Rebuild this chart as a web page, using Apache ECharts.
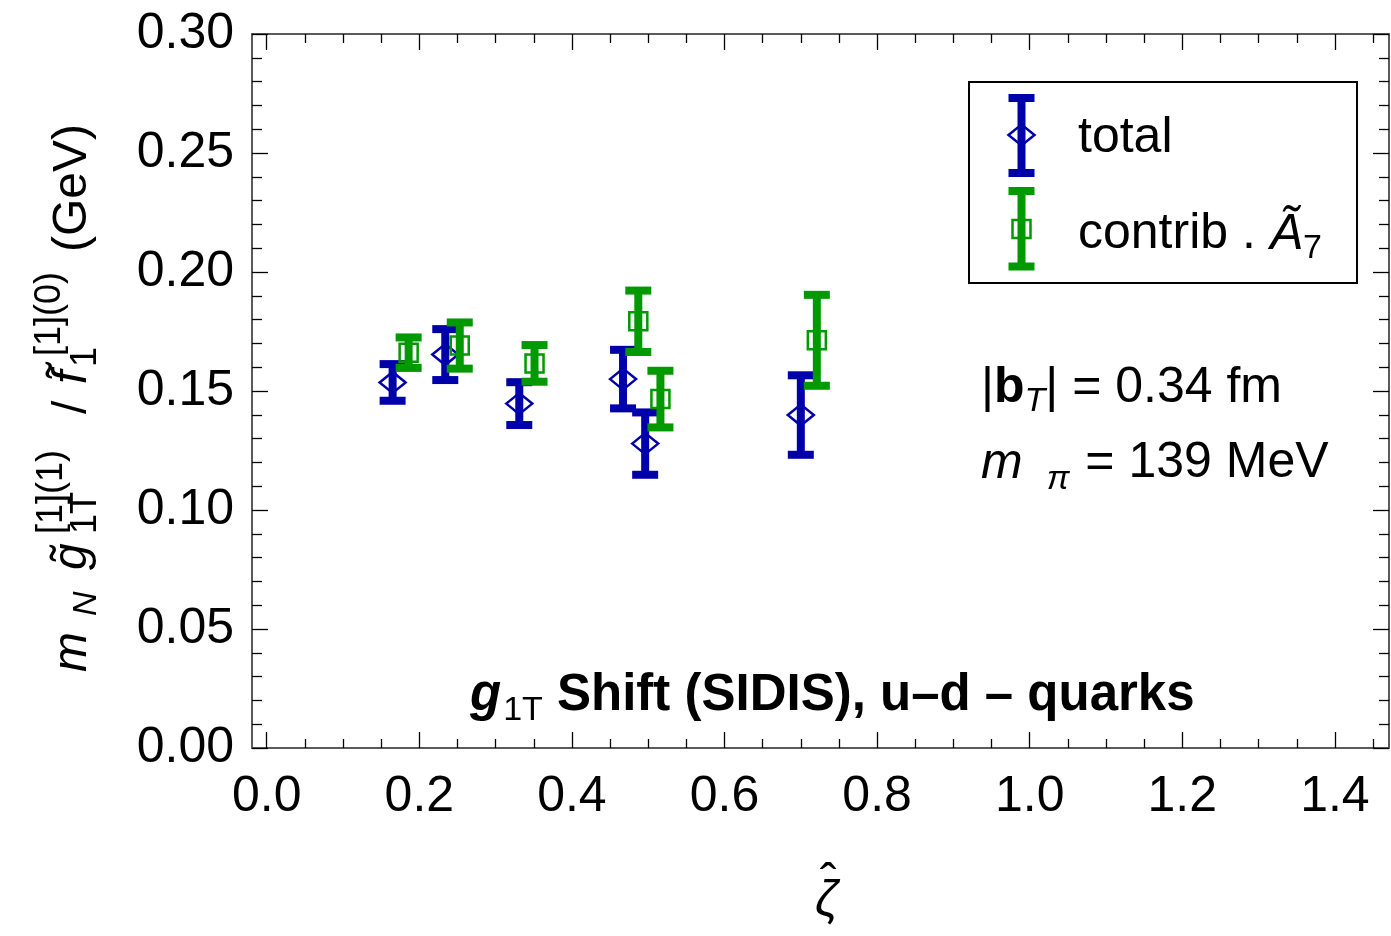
<!DOCTYPE html>
<html>
<head>
<meta charset="utf-8">
<script src="https://cdn.jsdelivr.net/npm/echarts@6/dist/echarts.min.js"></script>
<style>
  html, body { margin: 0; padding: 0; background: #ffffff; }
  #chart { width: 1391px; height: 936px; }
</style>
</head>
<body>
<div id="chart"></div>
<script>
// zeta-hat positions, central values and uncertainties (GeV)
const zetaTotal = [0.165, 0.234, 0.331, 0.467, 0.496, 0.700];
const valTotal  = [0.1536, 0.1653, 0.1447, 0.1550, 0.1279, 0.1399];
const errTotal  = [0.0077, 0.0107, 0.0090, 0.0123, 0.0131, 0.0167];

const zetaA7 = [0.186, 0.253, 0.351, 0.487, 0.516, 0.721];
const valA7  = [0.1661, 0.1691, 0.1616, 0.1793, 0.1466, 0.1713];
const errA7  = [0.0064, 0.0097, 0.0077, 0.0129, 0.0119, 0.0191];

// axis ticks
const xMajorTicks = [0.0, 0.2, 0.4, 0.6, 0.8, 1.0, 1.2, 1.4];
const xMinorTicks = [0.05, 0.1, 0.15, 0.25, 0.3, 0.35, 0.45, 0.5, 0.55, 0.65, 0.7, 0.75,
                     0.85, 0.9, 0.95, 1.05, 1.1, 1.15, 1.25, 1.3, 1.35, 1.45];
const xMin = -0.0193, xMax = 1.4709;
const yMin = 0, yMax = 0.30, yStep = 0.05;

const BLUE = '#0000aa';
const GREEN = '#009900';
const FONT = '"Liberation Sans", Arial, Helvetica, sans-serif';

const chart = echarts.init(document.getElementById('chart'), null, { renderer: 'canvas' });

// ---- text helpers -------------------------------------------------------
const measureCtx = document.createElement('canvas').getContext('2d');
function fontStr(r) {
  return (r.italic ? 'italic ' : 'normal ') + (r.bold ? 'bold ' : 'normal ') + r.size + 'px ' + FONT;
}
function textWidth(r) {
  measureCtx.font = fontStr(r);
  return measureCtx.measureText(r.text).width;
}
// place a text run so that its alphabetic baseline lands at `baseline`
function textEl(x, baseline, r) {
  return {
    type: 'text',
    x: x,
    y: baseline - 0.3465 * r.size,
    silent: true,
    style: {
      text: r.text,
      fontSize: r.size,
      fontFamily: FONT,
      fontStyle: r.italic ? 'italic' : 'normal',
      fontWeight: r.bold ? 'bold' : 'normal',
      fill: r.color || '#000',
      align: 'left',
      verticalAlign: 'middle'
    }
  };
}
// lay runs out one after another; run.dy shifts the baseline (sub/superscripts)
function runLine(x, baseline, runs) {
  const out = [];
  let cx = x;
  runs.forEach(function (r) {
    cx += r.dx || 0;
    out.push(textEl(cx, baseline + (r.dy || 0), r));
    cx += textWidth(r);
  });
  return out;
}

// ---- error-bar marks ----------------------------------------------------
function markerShape(marker, cx, cy, color) {
  if (marker === 'diamond') {
    return {
      type: 'polygon',
      shape: { points: [[cx - 13, cy], [cx, cy - 10.5], [cx + 13, cy], [cx, cy + 10.5]] },
      style: { fill: 'none', stroke: color, lineWidth: 2.5 }
    };
  }
  return {
    type: 'rect',
    shape: { x: cx - 9, y: cy - 9, width: 18, height: 18 },
    style: { fill: 'none', stroke: color, lineWidth: 2.5 }
  };
}
function errorBarRenderer(color, marker) {
  return function (params, api) {
    const x = api.value(0), y = api.value(1), e = api.value(2);
    const c = api.coord([x, y]);
    const hi = api.coord([x, y + e]);
    const lo = api.coord([x, y - e]);
    const capHalf = 13;
    const ls = { stroke: color, lineWidth: 8, lineCap: 'butt' };
    return {
      type: 'group',
      children: [
        { type: 'line', shape: { x1: c[0], y1: hi[1], x2: c[0], y2: lo[1] }, style: ls },
        { type: 'line', shape: { x1: c[0] - capHalf, y1: hi[1], x2: c[0] + capHalf, y2: hi[1] }, style: ls },
        { type: 'line', shape: { x1: c[0] - capHalf, y1: lo[1], x2: c[0] + capHalf, y2: lo[1] }, style: ls },
        markerShape(marker, c[0], c[1], color)
      ]
    };
  };
}

const dataTotal = zetaTotal.map(function (z, i) { return [z, valTotal[i], errTotal[i]]; });
const dataA7 = zetaA7.map(function (z, i) { return [z, valA7[i], errA7[i]]; });

// ---- axes ---------------------------------------------------------------
const frameLine = { show: true, onZero: false, lineStyle: { color: '#5a5a5a', width: 2 } };
const tickLine = { color: '#000000', width: 1.3 };

function xAxisPair(position, withLabels) {
  return [
    {
      type: 'value', position: position, min: xMin, max: xMax,
      axisLine: frameLine,
      axisTick: { show: true, inside: true, length: 16, customValues: xMajorTicks, lineStyle: tickLine },
      axisLabel: {
        show: withLabels, customValues: xMajorTicks, margin: 24,
        formatter: function (v) { return v.toFixed(1); },
        fontSize: 50, fontFamily: FONT, color: '#000'
      },
      splitLine: { show: false }
    },
    {
      type: 'value', position: position, min: xMin, max: xMax,
      axisLine: { show: false, onZero: false },
      axisTick: { show: true, inside: true, length: 9, customValues: xMinorTicks, lineStyle: tickLine },
      axisLabel: { show: false },
      splitLine: { show: false }
    }
  ];
}
function yAxisDef(position, withLabels) {
  return {
    type: 'value', position: position, min: yMin, max: yMax, interval: yStep,
    axisLine: frameLine,
    axisTick: { show: true, inside: true, length: 16, lineStyle: tickLine },
    minorTick: { show: true, splitNumber: 5, length: 10, lineStyle: tickLine },
    axisLabel: {
      show: withLabels, margin: 18,
      formatter: function (v) { return v.toFixed(2); },
      fontSize: 50, fontFamily: FONT, color: '#000'
    },
    splitLine: { show: false },
    minorSplitLine: { show: false }
  };
}

// ---- annotations ----------------------------------------------------------
const graphics = [];

// vertical axis title, written along the baseline and turned upright
const yTitleRuns = [
  { x: 0,   dy: 0,   text: 'm', size: 48, italic: true },
  { x: 56,  dy: 9,   text: 'N', size: 34, italic: true },
  { x: 102, dy: 0,   text: 'g', size: 48, italic: true },
  { x: 111, dy: -2,  text: '\u02DC', size: 48 },
  { x: 138, dy: -24, text: '[1](1)', size: 36 },
  { x: 138, dy: 10,  text: '1T', size: 36 },
  { x: 258, dy: 0,   text: '/', size: 48 },
  { x: 288, dy: 0,   text: 'f', size: 48, italic: true },
  { x: 294, dy: -6,  text: '\u02DC', size: 48 },
  { x: 305, dy: 10,  text: '1', size: 36 },
  { x: 316, dy: -26, text: '[1](0)', size: 36 },
  { x: 420, dy: 0,   text: '(GeV)', size: 48 }
];
graphics.push({
  type: 'group',
  x: 89, y: 672,
  rotation: Math.PI / 2,
  silent: true,
  children: yTitleRuns.map(function (r) { return textEl(r.x, r.dy, r); })
});

// horizontal axis title: zeta with a hat
graphics.push(textEl(815, 918, { text: '\u03B6', size: 50, italic: true }));
graphics.push(textEl(820, 902, { text: '\u02C6', size: 50 }));

// panel caption
graphics.push.apply(graphics, runLine(470, 714, [
  { text: 'g', size: 51, italic: true, bold: true },
  { text: '1T', size: 34, dy: 8, dx: 2 },
  { text: ' Shift (SIDIS), u\u2013d \u2013 quarks', size: 51, bold: true }
]));

// lattice parameters
graphics.push.apply(graphics, runLine(981, 406, [
  { text: '|', size: 50 },
  { text: 'b', size: 50, bold: true },
  { text: 'T', size: 34, italic: true, dy: 7 },
  { text: '| = 0.34 fm', size: 50 }
]));
graphics.push.apply(graphics, runLine(981, 481, [
  { text: 'm', size: 50, italic: true },
  { text: '\u03C0', size: 34, italic: true, dy: 10, dx: 24 },
  { text: ' = 139 MeV', size: 50, dx: 2 }
]));

// legend box with error-bar symbols
graphics.push({
  type: 'rect', silent: true,
  shape: { x: 969, y: 82, width: 388, height: 201 },
  style: { fill: '#ffffff', stroke: '#000000', lineWidth: 2 }
});
function legendSymbol(cx, yTop, yBot, cy, color, marker) {
  const ls = { stroke: color, lineWidth: 8 };
  return [
    { type: 'line', silent: true, shape: { x1: cx, y1: yTop, x2: cx, y2: yBot }, style: ls },
    { type: 'line', silent: true, shape: { x1: cx - 13, y1: yTop, x2: cx + 13, y2: yTop }, style: ls },
    { type: 'line', silent: true, shape: { x1: cx - 13, y1: yBot, x2: cx + 13, y2: yBot }, style: ls },
    Object.assign({ silent: true }, markerShape(marker, cx, cy, color))
  ];
}
graphics.push.apply(graphics, legendSymbol(1021.5, 98, 173, 135, BLUE, 'diamond'));
graphics.push.apply(graphics, legendSymbol(1021.5, 191, 266.5, 229, GREEN, 'square'));
graphics.push.apply(graphics, runLine(1078, 156, [{ text: 'total', size: 50 }]));
graphics.push.apply(graphics, runLine(1078, 252, [
  { text: 'contrib . ', size: 50 },
  { text: '\u00C3', size: 50, italic: true },
  { text: '7', size: 34, dy: 8 }
]));

const option = {
  backgroundColor: '#ffffff',
  animation: false,
  grid: { left: 252, right: 2, top: 34, bottom: 188, containLabel: false },
  xAxis: [].concat(xAxisPair('bottom', true), xAxisPair('top', false)),
  yAxis: [yAxisDef('left', true), yAxisDef('right', false)],
  series: [
    {
      name: 'total', type: 'custom', xAxisIndex: 0, yAxisIndex: 0,
      renderItem: errorBarRenderer(BLUE, 'diamond'),
      encode: { x: 0, y: 1 },
      data: dataTotal, z: 2
    },
    {
      name: 'contrib. A7', type: 'custom', xAxisIndex: 0, yAxisIndex: 0,
      renderItem: errorBarRenderer(GREEN, 'square'),
      encode: { x: 0, y: 1 },
      data: dataA7, z: 3
    }
  ],
  graphic: graphics
};
chart.setOption(option);
</script>
</body>
</html>
